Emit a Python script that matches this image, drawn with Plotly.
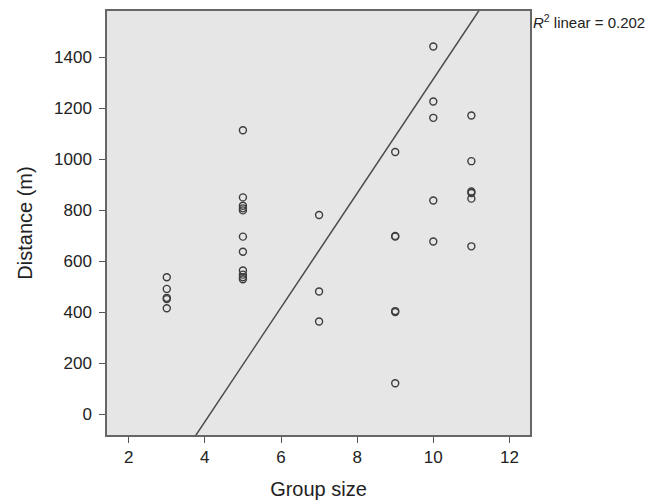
import plotly.graph_objects as go

# Data
group_size = [3, 3, 3, 3, 3,
              5, 5, 5, 5, 5, 5, 5, 5, 5, 5, 5,
              7, 7, 7,
              9, 9, 9, 9, 9, 9,
              10, 10, 10, 10, 10,
              11, 11, 11, 11, 11, 11]
distance = [538, 492, 457, 452, 416,
            1114, 851, 818, 808, 800, 697, 638, 564, 548, 538, 530,
            782, 482, 364,
            1029, 700, 697, 405, 401, 122,
            1443, 1227, 1163, 839, 678,
            1172, 993, 874, 868, 846, 659]

# Fit line as drawn in the reference
fit_slope = 224.0
fit_intercept = -925.0
r2_text = "<i>R</i><sup>2</sup> linear = 0.202"

x_range = [1.43, 12.54]
y_range = [-81, 1582]
x_ticks = [2, 4, 6, 8, 10, 12]
y_ticks = [0, 200, 400, 600, 800, 1000, 1200, 1400]

FONT = "Liberation Sans, Arial, sans-serif"

fit_x = [x_range[0], x_range[1]]
fit_y = [fit_intercept + fit_slope * v for v in fit_x]

fig = go.Figure()
fig.add_trace(go.Scatter(
    x=fit_x, y=fit_y, mode="lines",
    line=dict(color="#4a4a4a", width=1.5),
    hoverinfo="skip", showlegend=False, cliponaxis=True,
))
fig.add_trace(go.Scatter(
    x=group_size, y=distance, mode="markers",
    marker=dict(symbol="circle-open", size=7, color="#3c3c3c",
                line=dict(width=1.4, color="#3c3c3c")),
    showlegend=False,
))

fig.add_annotation(
    x=1.0, y=1.0, xref="paper", yref="paper", xanchor="left", yanchor="top",
    xshift=1, yshift=1, text=r2_text, showarrow=False,
    font=dict(family=FONT, size=15, color="#222"),
)

axis_common = dict(
    showgrid=False, zeroline=False, showline=True, mirror=True,
    linecolor="#666666", linewidth=1.5, automargin=False,
    ticks="outside", ticklen=6, tickwidth=1, tickcolor="#555555",
    tickfont=dict(family=FONT, size=17, color="#222"),
)

fig.update_xaxes(range=x_range, tickvals=x_ticks,
                 title=dict(text="Group size", standoff=16,
                            font=dict(family=FONT, size=20, color="#222")),
                 **axis_common)
fig.update_yaxes(range=y_range, tickvals=y_ticks, ticklabelstandoff=4,
                 title=dict(text="Distance (m)", standoff=16,
                            font=dict(family=FONT, size=20, color="#222")),
                 **axis_common)

fig.update_layout(
    width=651, height=492,
    margin=dict(l=99, r=129, t=3, b=65),
    plot_bgcolor="#e6e6e6", paper_bgcolor="white",
)

fig.write_html("out.html")
